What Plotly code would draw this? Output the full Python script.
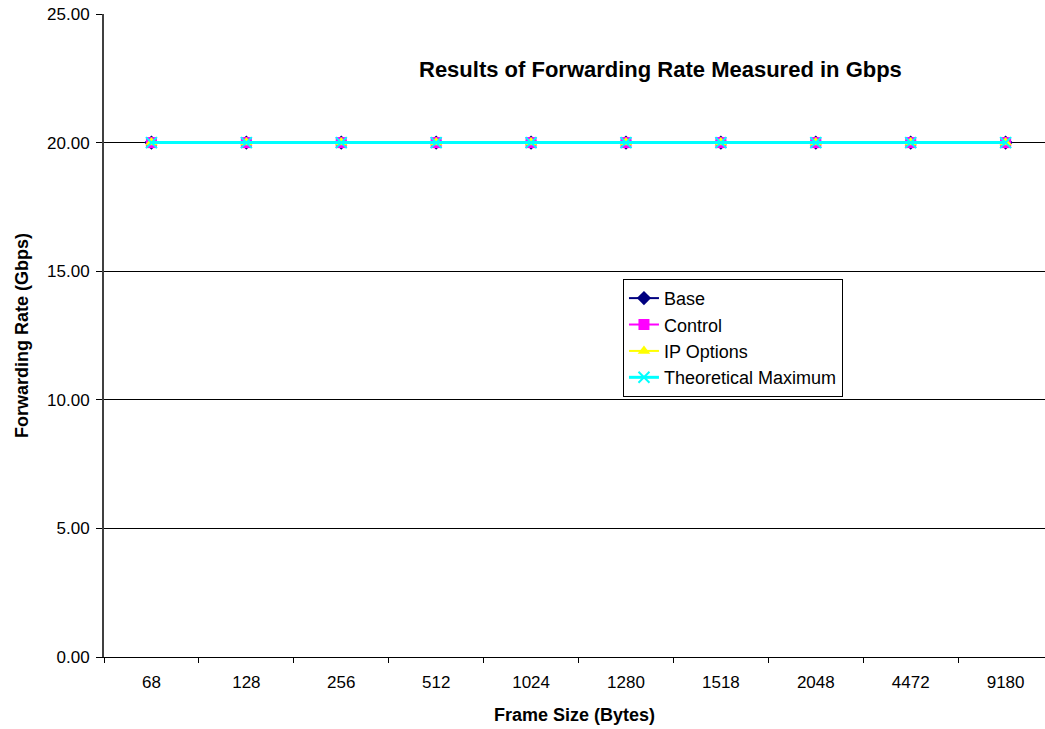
import plotly.graph_objects as go

frame_sizes = ["68", "128", "256", "512", "1024", "1280", "1518", "2048", "4472", "9180"]
base = [20.0] * 10
control = [20.0] * 10
ip_options = [20.0] * 10
theoretical_max = [20.0] * 10

series = [
    ("Base", base, "#000080", "diamond", 2),
    ("Control", control, "#FF00FF", "square", 2),
    ("IP Options", ip_options, "#FFFF00", "triangle-up", 2),
    ("Theoretical Maximum", theoretical_max, "#00FFFF", "x-thin", 3),
]

fig = go.Figure()
for name, vals, color, sym, w in series:
    marker = dict(symbol=sym, size=11, color=color, line=dict(color=color, width=2 if sym == "x-thin" else 0))
    fig.add_trace(go.Scatter(
        x=frame_sizes, y=vals, name=name, mode="lines+markers",
        line=dict(color=color, width=w), marker=marker,
    ))

fig.update_layout(
    width=1045, height=729,
    margin=dict(l=104, r=0, t=14, b=72),
    paper_bgcolor="white", plot_bgcolor="white",
    font=dict(family="Arial, Liberation Sans, sans-serif", size=17, color="black"),
    showlegend=True,
    legend=dict(
        x=0.5515, y=0.588, xanchor="left", yanchor="top",
        bordercolor="black", borderwidth=1, bgcolor="white",
        font=dict(size=18), tracegroupgap=0, itemwidth=30,
    ),
    annotations=[dict(
        text="<b>Results of Forwarding Rate Measured in Gbps</b>",
        x=0.591, y=0.914, xref="paper", yref="paper",
        showarrow=False, font=dict(size=22), xanchor="center", yanchor="middle",
    )],
)

fig.update_xaxes(
    type="category", range=[-0.5, 9.415],
    tickson="boundaries", ticks="outside", ticklen=5, tickcolor="black",
    showline=True, linecolor="black", linewidth=1,
    showgrid=False, ticklabelstandoff=10,
    title=dict(text="<b>Frame Size (Bytes)</b>", font=dict(size=18), standoff=16),
    tickfont=dict(size=17),
)
fig.update_yaxes(
    range=[0, 25], dtick=5, tickformat=".2f",
    ticks="outside", ticklen=6, tickcolor="black",
    showline=True, linecolor="#404040", linewidth=2,
    showgrid=True, gridcolor="black", gridwidth=1,
    zeroline=False, ticklabelstandoff=3,
    title=dict(text="<b>Forwarding Rate (Gbps)</b>", font=dict(size=18), standoff=14),
    tickfont=dict(size=17),
)

fig.write_html("out.html")
